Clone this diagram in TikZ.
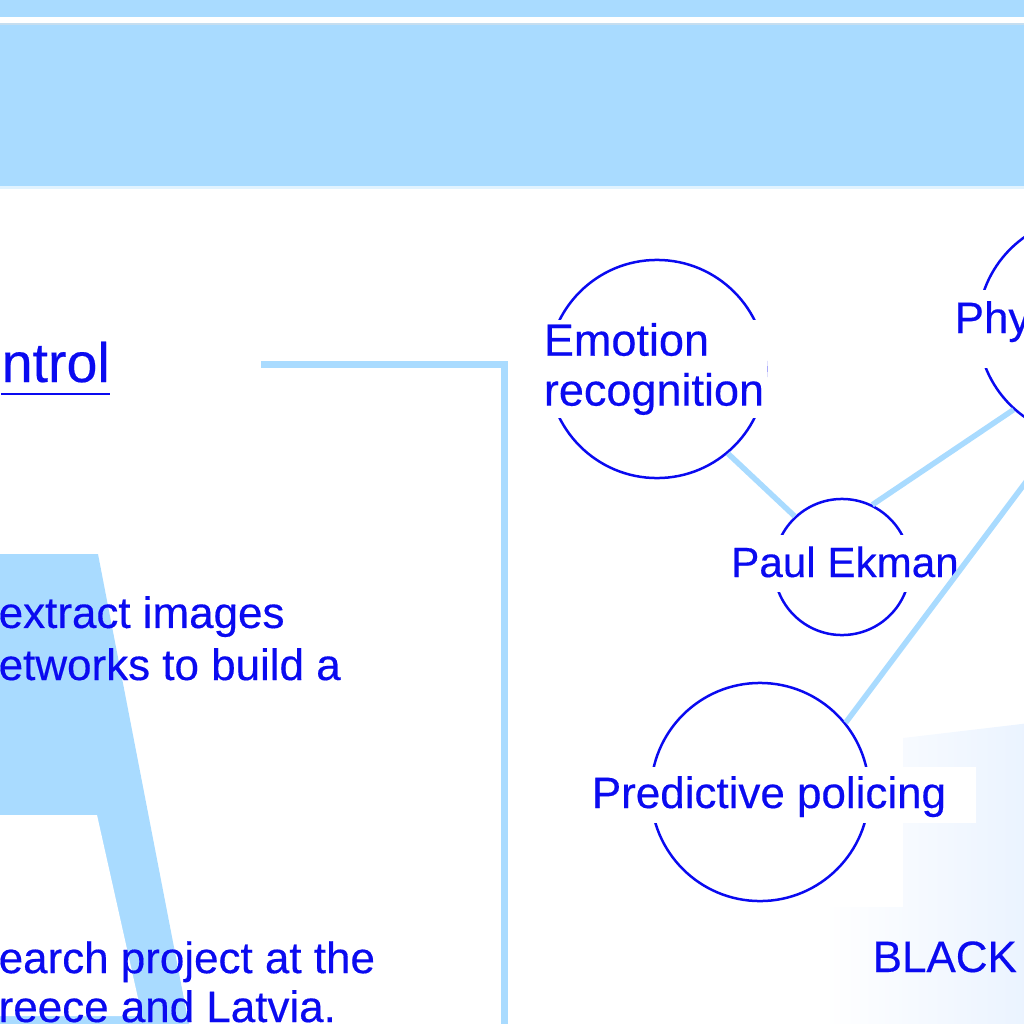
\documentclass[tikz,border=0pt]{standalone}
\usepackage{fontspec}
\setmainfont[FakeBold=0.35]{Liberation Sans}
\usetikzlibrary{positioning}
\definecolor{inkblue}{RGB}{10, 10, 240}
\definecolor{skyblue}{RGB}{169, 219, 255}
\definecolor{paleblue}{RGB}{234, 243, 255}
\newcommand{\diagfont}{\fontsize{12.5}{14.8}\selectfont}

\begin{document}
\begin{tikzpicture}[
    x=0.01cm, y=-0.01cm,
    concept/.style={draw=inkblue, line width=0.025cm, circle, inner sep=0pt},
    tag/.style={fill=white, text=inkblue, font=\diagfont, inner sep=0.03cm},
    link/.style={draw=skyblue, line width=0.055cm},
    body/.style={text=inkblue, font=\diagfont, align=left, inner sep=0pt, anchor=base west}
]
    \useasboundingbox (0,0) rectangle (1024,1024);
    \clip (0,0) rectangle (1024,1024);

    % Background
    \shade[left color=white, right color=paleblue] (903,738) -- (1030,723) -- (1030,1030) -- (825,1030) -- (825,907) -- (903,907) -- cycle;

    % Header band
    \fill[skyblue] (0,0) rectangle (1030,17);
    \fill[skyblue!80!gray!60] (0,23) rectangle (1030,25);
    \fill[skyblue] (0,25) rectangle (1030,186);
    \fill[skyblue!35] (0,186) rectangle (1030,188.5);

    % Left bracket shape
    \fill[skyblue] (-5,554) -- (98,554) -- (190,1030) -- (-5,1030) -- cycle;
    \fill[white] (-5,815) -- (97,815) -- (142,1016) -- (-5,1016) -- cycle;

    % Frame line
    \draw[skyblue, line width=0.065cm] (261,364.5) -- (504.5,364.5) -- (504.5,1030);

    % Left column text (base = last line)
    \node[text=inkblue, font=\fontsize{15.8}{18}\selectfont, inner sep=0pt, anchor=base west] (ctrltitle) at (1,382) {ntrol};
    \draw[inkblue, line width=0.022cm] ([yshift=-0.12cm]ctrltitle.base west) -- ([yshift=-0.12cm]ctrltitle.base east);
    \node[body] (para1) at (-2,680) {extract images\\etworks to build a};
    \node[body, font=\fontsize{12.5}{13.9}\selectfont] (para2) at (-2,1022) {earch project at the\\reece and Latvia.};

    % Concepts
    \node[concept, minimum size=2.18cm] (emo) at (657,369) {};
    \node[concept, minimum size=1.36cm] (ekman) at (842,567) {};
    \node[concept, minimum size=2.2cm] (phy) at (1088,327) {};
    \node[concept, minimum size=2.18cm] (pred) at (760,792) {};

    \node[tag, align=left, font=\fontsize{12.8}{14.2}\selectfont] (emotag) at (654,369) {Emotion\\recognition};
    \node[tag, anchor=base, font=\fontsize{12}{14}\selectfont, text height=0.39cm, text depth=0.12cm] (ekmantag) at (845,577) {Paul Ekman};
    \node[tag, anchor=base west, text height=0.4cm, text depth=0.32cm] (phytag) at (951,333) {Phy};
    \node[tag, anchor=base, inner xsep=0.3cm, text height=0.38cm, text depth=0.12cm] (predtag) at (769,808) {Predictive policing};

    % Links
    \draw[link] (emo.310) -- (ekman.133);
    \draw[link] (ekman.64) -- (phy.228);
    \draw[link] (pred.39) -- (phy.256);

    \node[body] (blacktxt) at (872,972) {BLACK};
\end{tikzpicture}
\end{document}
